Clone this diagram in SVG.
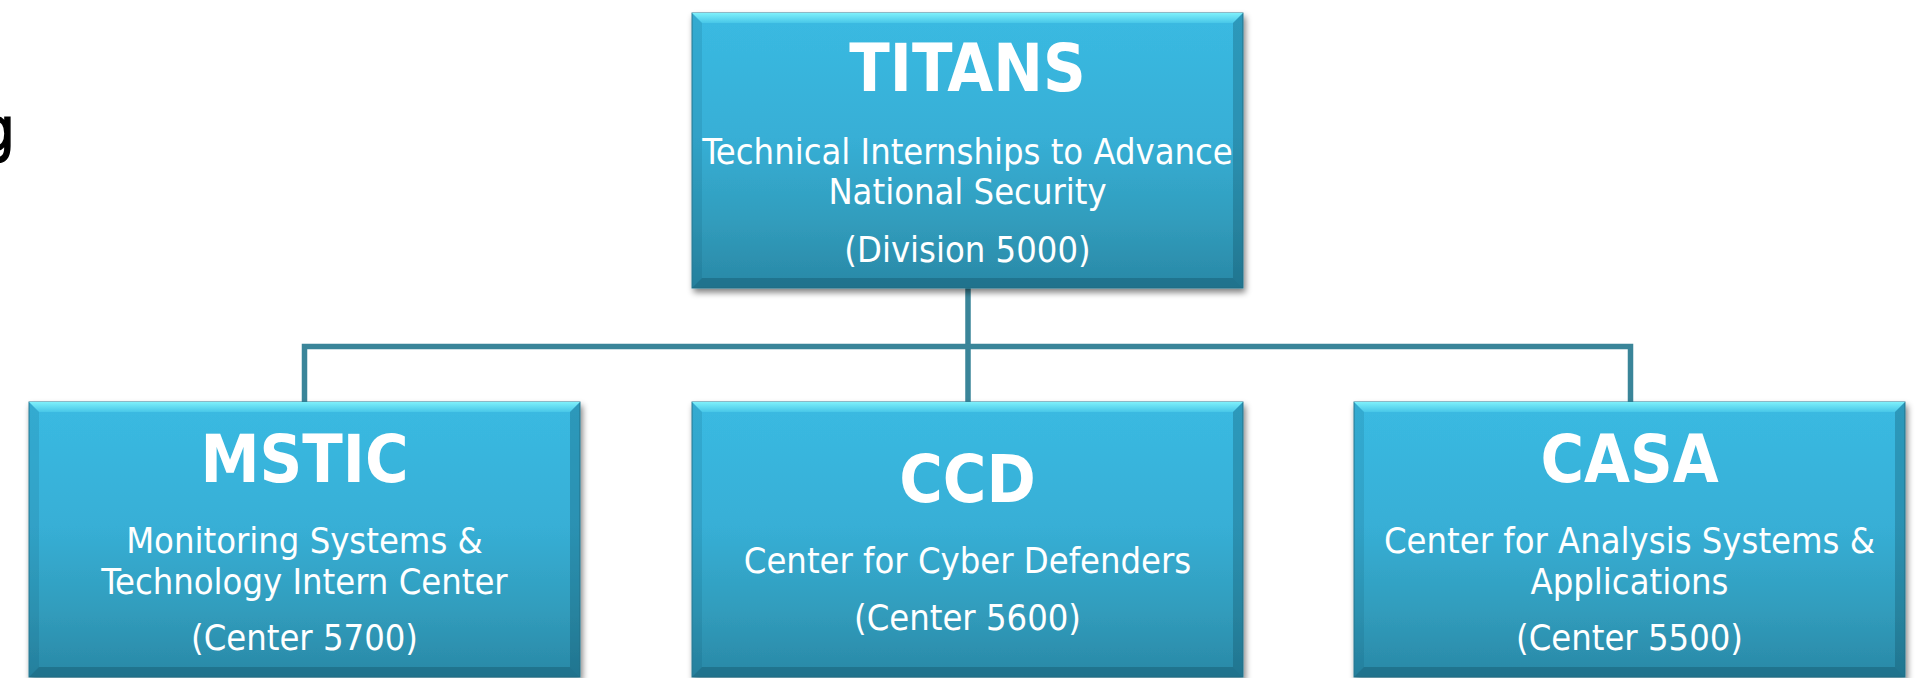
<svg xmlns="http://www.w3.org/2000/svg" xmlns:xlink="http://www.w3.org/1999/xlink" width="1923" height="678" viewBox="0 0 1923 678">
  <style>
    .t { fill: #ffffff; font-family: "DejaVu Sans Condensed", "DejaVu Sans", sans-serif; font-stretch: condensed; text-anchor: middle; }
    .title { font-size: 66px; font-weight: bold; }
    .sub { font-size: 36px; }
    .conn { fill: none; stroke: #3a8599; stroke-width: 5.5; stroke-linejoin: miter; }
    .edge { font-family: "DejaVu Sans Condensed", "DejaVu Sans", sans-serif; font-stretch: condensed; font-size: 61px; fill: #000; stroke: #000; stroke-width: 1.5; }
  </style>
  <defs>
    <linearGradient id="fillGrad" x1="0" y1="0" x2="0" y2="1">
      <stop offset="0" stop-color="#3abae2"/>
      <stop offset="0.45" stop-color="#37afd6"/>
      <stop offset="0.75" stop-color="#319dbd"/>
      <stop offset="1" stop-color="#2a88a6"/>
    </linearGradient>
    <linearGradient id="topBevel" x1="0" y1="0" x2="0" y2="1">
      <stop offset="0" stop-color="#7ef0fb"/>
      <stop offset="1" stop-color="#48c7e8"/>
    </linearGradient>
    <filter id="shadow" x="-5%" y="-5%" width="112%" height="115%">
      <feGaussianBlur in="SourceAlpha" stdDeviation="3"/>
      <feOffset dx="2" dy="4" result="b"/>
      <feComponentTransfer><feFuncA type="linear" slope="0.5"/></feComponentTransfer>
      <feMerge><feMergeNode/><feMergeNode in="SourceGraphic"/></feMerge>
    </filter>
    <g id="box">
      <rect x="0" y="0" width="551" height="275" fill="url(#fillGrad)" stroke="#2e7f96" stroke-width="1" filter="url(#shadow)"/>
      <polygon points="0,0 551,0 541,10 10,10" fill="url(#topBevel)"/>
      <polygon points="0,0 10,10 10,265 0,275" fill="#0b4457" opacity="0.12"/>
      <polygon points="551,0 551,275 541,265 541,10" fill="#0b4457" opacity="0.28"/>
      <polygon points="0,275 10,265 541,265 551,275" fill="#0b4457" opacity="0.32"/>
    </g>
  </defs>

  <rect x="0" y="0" width="1923" height="678" fill="#ffffff"/>

  <text class="edge" x="-20" y="150">g</text>

  <g id="connectors">
    <path class="conn" d="M968,288 V402"/>
    <path class="conn" d="M304.5,402 V346.5 H1630.5 V402"/>
  </g>

  <g id="titans">
    <use xlink:href="#box" href="#box" transform="translate(692,13)"/>
    <text class="t title" x="967.5" y="91">TITANS</text>
    <text class="t sub" x="967.5" y="164">Technical Internships to Advance</text>
    <text class="t sub" x="967.5" y="204">National Security</text>
    <text class="t sub" x="967.5" y="262">(Division 5000)</text>
  </g>

  <g id="mstic">
    <use xlink:href="#box" href="#box" transform="translate(29,402)"/>
    <text class="t title" x="304.5" y="482">MSTIC</text>
    <text class="t sub" x="304.5" y="553">Monitoring Systems &amp;</text>
    <text class="t sub" x="304.5" y="594">Technology Intern Center</text>
    <text class="t sub" x="304.5" y="650">(Center 5700)</text>
  </g>

  <g id="ccd">
    <use xlink:href="#box" href="#box" transform="translate(692,402)"/>
    <text class="t title" x="967.5" y="502">CCD</text>
    <text class="t sub" x="967.5" y="573">Center for Cyber Defenders</text>
    <text class="t sub" x="967.5" y="630">(Center 5600)</text>
  </g>

  <g id="casa">
    <use xlink:href="#box" href="#box" transform="translate(1354,402)"/>
    <text class="t title" x="1629.5" y="482">CASA</text>
    <text class="t sub" x="1629.5" y="553">Center for Analysis Systems &amp;</text>
    <text class="t sub" x="1629.5" y="594">Applications</text>
    <text class="t sub" x="1629.5" y="650">(Center 5500)</text>
  </g>
</svg>
